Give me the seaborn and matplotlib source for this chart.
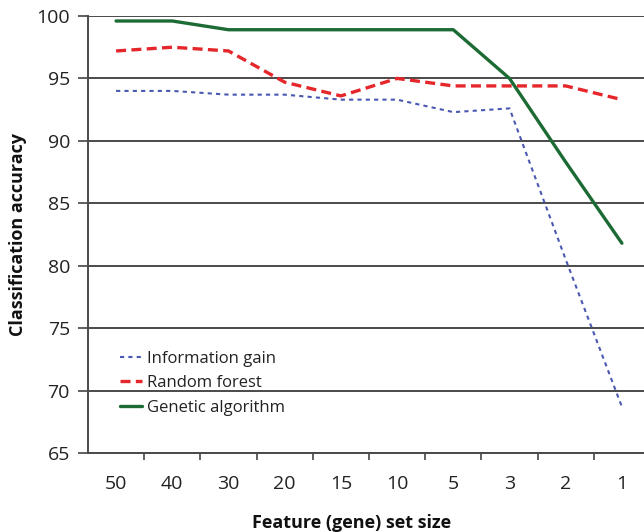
import matplotlib
matplotlib.use("Agg")
import matplotlib.pyplot as plt
import seaborn as sns
import pandas as pd
import numpy as np

categories = ["50", "40", "30", "20", "15", "10", "5", "3", "2", "1"]
info_gain = [94.0, 94.0, 93.7, 93.7, 93.3, 93.3, 92.3, 92.6, 80.5, 68.7]
random_forest = [97.2, 97.5, 97.2, 94.7, 93.6, 95.0, 94.4, 94.4, 94.4, 93.3]
genetic_alg = [99.6, 99.6, 98.9, 98.9, 98.9, 98.9, 98.9, 95.0, 88.3, 81.8]
y_ticks = [65, 70, 75, 80, 85, 90, 95, 100]

series = [
    ("Information gain", info_gain, "#4a58b0", (0, (2.0, 2.0)), 1.5),
    ("Random forest", random_forest, "#e5262b", (0, (3.0, 1.6)), 2.4),
    ("Genetic algorithm", genetic_alg, "#1d6b34", "-", 2.4),
]

sns.set_theme(style="white")
plt.rcParams["font.family"] = ["Open Sans", "DejaVu Sans"]

fig = plt.figure(figsize=(6.44, 5.32), dpi=100)
ax = fig.add_axes([88 / 644, 1 - 453 / 532, (650 - 88) / 644, (453 - 16) / 532])

pos = np.arange(len(categories))
for name, vals, col, ls, lw in series:
    df = pd.DataFrame({"x": pos, "y": vals})
    sns.lineplot(data=df, x="x", y="y", ax=ax, color=col, linestyle=ls,
                 linewidth=lw, label=name)

ax.set_xlim(-0.5, len(categories) - 0.5)
ax.set_ylim(65, 100)
ax.set_yticks(y_ticks)
ax.set_yticklabels([str(t) for t in y_ticks], fontsize=14, color="#222222")

# boundary ticks (major) and centred labels (minor)
ax.set_xticks(np.arange(0.5, len(categories) - 0.5, 1.0))
ax.set_xticklabels([])
ax.set_xticks(pos, minor=True)
ax.set_xticklabels(categories, minor=True, fontsize=14, color="#222222")
ax.tick_params(axis="x", which="major", direction="out", length=5, width=1.2,
               color="#444444", bottom=True)
ax.tick_params(axis="x", which="minor", length=0, pad=16)
ax.tick_params(axis="y", direction="out", length=7, width=1.2, color="#444444",
               left=True, pad=6)

ax.yaxis.grid(True, color="#4a4a4a", linewidth=1.4)
ax.xaxis.grid(False)
ax.set_axisbelow(True)
for s in ["top", "right"]:
    ax.spines[s].set_visible(False)
ax.spines["left"].set_color("#4a4a4a")
ax.spines["left"].set_linewidth(1.4)
ax.spines["bottom"].set_color("#4a4a4a")
ax.spines["bottom"].set_linewidth(1.4)

ax.set_xlabel("Feature (gene) set size", fontsize=13, fontweight="bold",
              color="#111111")
ax.set_ylabel("Classification accuracy", fontsize=13, fontweight="bold",
              color="#111111")
ax.xaxis.set_label_coords((352 - 88) / (650 - 88), -0.14)
ax.yaxis.set_label_coords(-(88 - 27) / (650 - 88), 0.5)

leg = ax.legend(loc="upper left", bbox_to_anchor=(0.03, 0.268), frameon=False,
                fontsize=12, handlelength=1.3, handletextpad=0.3,
                labelspacing=0.5)
for t in leg.get_texts():
    t.set_color("#222222")

fig.savefig("out.png", dpi=100)
